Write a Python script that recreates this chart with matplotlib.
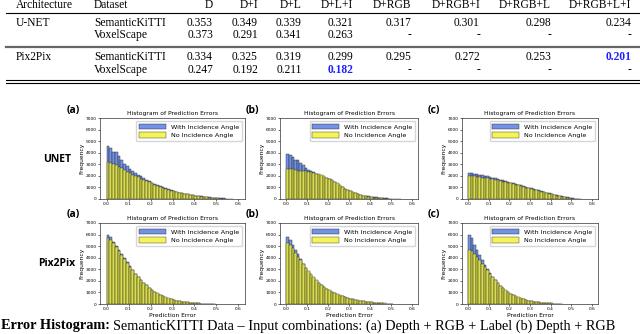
import matplotlib
matplotlib.use("Agg")
import matplotlib.pyplot as plt
import numpy as np

# ---------------- table data ----------------
table_cols = ["D", "D+I", "D+L", "D+L+I", "D+RGB", "D+RGB+I", "D+RGB+L", "D+RGB+L+I"]
unet_semkitti = ["0.353", "0.349", "0.339", "0.321", "0.317", "0.301", "0.298", "0.234"]
unet_voxel = ["0.373", "0.291", "0.341", "0.263", "-", "-", "-", "-"]
pix_semkitti = ["0.334", "0.325", "0.319", "0.299", "0.295", "0.272", "0.253", "0.201"]
pix_voxel = ["0.247", "0.192", "0.211", "0.182", "-", "-", "-", "-"]
row_archs = ["U-NET", "Pix2Pix"]
row_datasets = ["SemanticKiTTI", "VoxelScape"]

# ---------------- histogram data (bin width 0.0125 from 0) ----------------
bin_width = 0.0125
unet_a_with = [4550, 4450, 4100, 4050, 3750, 3400, 3050, 2850, 2600, 2400, 2250, 2100, 1950, 1800,
               1650, 1550, 1400, 1300, 1200, 1100, 1000, 920, 840, 760, 690, 620, 560, 510, 460, 410,
               370, 330, 290, 260, 230, 200, 170, 140, 120, 100, 80, 60, 45, 30, 20, 10]
unet_a_no = [3200, 3150, 3050, 2950, 2800, 2650, 2500, 2350, 2250, 2100, 2000, 1900, 1750, 1650,
             1550, 1450, 1350, 1250, 1150, 1050, 960, 880, 800, 730, 660, 600, 540, 490, 440, 390,
             350, 310, 270, 240, 200, 170, 140, 110, 90, 70, 50, 35, 20, 10]
unet_b_with = [3850, 3800, 3650, 3400, 3350, 3100, 2900, 2700, 2500, 2400, 2300, 2200, 2100, 2000,
               1900, 1800, 1700, 1600, 1450, 1300, 1150, 1000, 880, 760, 650, 560, 480, 410, 350, 300,
               260, 220, 190, 160, 135, 110, 90, 70, 55, 40, 30, 20, 12, 6]
unet_b_no = [2600, 2600, 2550, 2500, 2450, 2450, 2400, 2400, 2350, 2300, 2250, 2200, 2150, 2050,
             1950, 1850, 1750, 1650, 1500, 1350, 1200, 1050, 900, 780, 670, 570, 480, 400, 340, 280,
             230, 190, 150, 120, 95, 70, 50, 35, 20, 10]
unet_c_with = [2250, 2250, 2200, 2150, 2100, 2050, 2000, 1950, 1900, 1850, 1780, 1720, 1650, 1600,
               1550, 1480, 1420, 1350, 1290, 1230, 1170, 1100, 1040, 980, 920, 860, 800, 740, 680, 620,
               560, 500, 440, 380, 330, 280, 230, 180, 140, 100, 70, 40, 20, 10]
unet_c_no = [1950, 1950, 1950, 1900, 1880, 1850, 1820, 1780, 1740, 1700, 1650, 1600, 1550, 1500,
             1450, 1400, 1340, 1290, 1230, 1170, 1110, 1050, 990, 930, 870, 810, 750, 690, 630, 570,
             510, 450, 390, 330, 280, 230, 180, 140, 100, 70, 40, 20, 10]
pix_a_with = [6000, 5800, 5400, 5000, 4700, 4300, 3950, 3600, 3250, 2900, 2600, 2300, 2050, 1800,
              1600, 1400, 1200, 1050, 900, 780, 660, 560, 470, 400, 340, 280, 230, 190, 160, 130,
              100, 80, 60, 50, 40, 30, 20, 15, 10, 5]
pix_a_no = [5700, 5550, 5300, 4950, 4600, 4250, 3900, 3550, 3200, 2900, 2600, 2300, 2050, 1820,
            1600, 1400, 1220, 1060, 920, 800, 690, 590, 500, 420, 350, 290, 240, 200, 160, 130,
            100, 80, 60, 45, 35, 25, 15, 10, 5]
pix_b_with = [5800, 5500, 5100, 4700, 4300, 3900, 3500, 3150, 2800, 2500, 2250, 2000, 1800, 1600,
              1450, 1300, 1150, 1030, 920, 820, 730, 650, 580, 510, 450, 400, 350, 300, 260, 220,
              190, 160, 130, 110, 90, 70, 55, 40, 30, 20, 10]
pix_b_no = [5300, 5100, 4800, 4450, 4100, 3800, 3450, 3150, 2850, 2550, 2300, 2050, 1850, 1650,
            1480, 1330, 1190, 1060, 950, 850, 760, 680, 600, 530, 470, 410, 360, 310, 270, 230,
            195, 165, 140, 115, 95, 75, 60, 45, 30, 20, 10]
pix_c_with = [5950, 5700, 5100, 4700, 4200, 3800, 3400, 3000, 2650, 2350, 2050, 1800, 1550, 1350,
              1150, 1000, 860, 740, 640, 550, 470, 400, 340, 290, 240, 200, 170, 140, 110, 90,
              70, 55, 40, 30, 20, 10]
pix_c_no = [4650, 4550, 4300, 4050, 3800, 3500, 3200, 2900, 2600, 2300, 2050, 1800, 1580, 1380,
            1200, 1040, 900, 780, 670, 570, 490, 420, 360, 300, 250, 210, 175, 145, 120, 95,
            75, 60, 45, 35, 25, 15, 8]

panel_labels = ["(a)", "(b)", "(c)"]
model_labels = ["UNET", "Pix2Pix"]
x_ticks = [0.0, 0.1, 0.2, 0.3, 0.4, 0.5, 0.6]
y_ticks = [0, 1000, 2000, 3000, 4000, 5000, 6000, 7000]

W, H = 640, 334
fig = plt.figure(figsize=(W / 100, H / 100), dpi=100)
fig.patch.set_facecolor("white")


def fx(x):
    return x / W


def fy(y):
    return 1 - y / H


def px_axes(l, t, r, b):
    return fig.add_axes([fx(l), fy(b), (r - l) / W, (b - t) / H])


SERIF = "Liberation Serif"
tfs = 8.3

# ---------------- table ----------------
col_right = [213, 258, 302, 353, 411, 480, 551, 631]
hy = 5
fig.text(fx(16), fy(hy), "Architecture", family=SERIF, fontsize=tfs, va="center", ha="left")
fig.text(fx(94), fy(hy), "Dataset", family=SERIF, fontsize=tfs, va="center", ha="left")
for c, xr in zip(table_cols, col_right):
    fig.text(fx(xr), fy(hy), c, family=SERIF, fontsize=tfs, va="center", ha="right")

rows = [(row_archs[0], row_datasets[0], unet_semkitti, 23),
        ("", row_datasets[1], unet_voxel, 35),
        (row_archs[1], row_datasets[0], pix_semkitti, 57.5),
        ("", row_datasets[1], pix_voxel, 70)]
best = {(2, 7), (3, 3)}
for ri, (arch, ds, vals, y) in enumerate(rows):
    if arch:
        fig.text(fx(16), fy(y), arch, family=SERIF, fontsize=tfs, va="center", ha="left")
    fig.text(fx(94), fy(y), ds, family=SERIF, fontsize=tfs, va="center", ha="left")
    for ci, (v, xr) in enumerate(zip(vals, col_right)):
        if (ri, ci) in best:
            fig.text(fx(xr), fy(y), v, family=SERIF, fontsize=tfs, va="center", ha="right",
                     color="#1f1fff", fontweight="bold")
        else:
            fig.text(fx(xr), fy(y), v, family=SERIF, fontsize=tfs, va="center", ha="right")

fig.add_artist(plt.Line2D([fx(6), fx(640)], [fy(13.2), fy(13.2)], color="black", lw=0.8,
                          transform=fig.transFigure))
fig.add_artist(plt.Line2D([fx(6), fx(640)], [fy(46.7), fy(46.7)], color="#666666", lw=1.6,
                          transform=fig.transFigure))
fig.add_artist(plt.Line2D([fx(6), fx(640)], [fy(80.2), fy(80.2)], color="black", lw=0.8,
                          transform=fig.transFigure))
fig.add_artist(plt.Line2D([fx(6), fx(640)], [fy(82.7), fy(82.7)], color="black", lw=0.8,
                          transform=fig.transFigure))

# ---------------- histograms ----------------
data = [[(unet_a_with, unet_a_no), (unet_b_with, unet_b_no), (unet_c_with, unet_c_no)],
        [(pix_a_with, pix_a_no), (pix_b_with, pix_b_no), (pix_c_with, pix_c_no)]]
col_lr = [(100, 245), (280, 418), (462, 598)]
row_tb = [(118, 199), (223, 304)]
blue = "#5b7fe0"
yellow = "#f2f230"

for r in range(2):
    t, b = row_tb[r]
    for c in range(3):
        l, rr = col_lr[c]
        ax = px_axes(l, t, rr, b)
        w_vals, n_vals = data[r][c]
        xw = np.arange(len(w_vals)) * bin_width
        xn = np.arange(len(n_vals)) * bin_width
        ax.bar(xw, w_vals, width=bin_width, align="edge", color=blue, alpha=0.85,
               edgecolor="#222222", linewidth=0.35, label="With Incidence Angle")
        ax.bar(xn, n_vals, width=bin_width, align="edge", color=yellow, alpha=0.8,
               edgecolor="#222222", linewidth=0.35, label="No Incidence Angle")
        ax.set_xlim(-0.03, 0.63)
        ax.set_ylim(0, 7000)
        ax.set_xticks(x_ticks)
        ax.set_xticklabels([f"{v:.1f}" for v in x_ticks])
        ax.set_yticks(y_ticks)
        ax.tick_params(labelsize=3.2, length=1.5, width=0.4, pad=1)
        for s in ax.spines.values():
            s.set_linewidth(0.5)
            s.set_color("#333333")
        ax.set_title("Histogram of Prediction Errors", fontsize=4.3, pad=2)
        ax.set_ylabel("Frequency", fontsize=4.3, labelpad=1)
        if r == 1:
            ax.set_xlabel("Prediction Error", fontsize=4.3, labelpad=1)
        ax.legend(loc="upper right", fontsize=4.6, frameon=True, handlelength=4.2,
                  handleheight=1.0, borderpad=0.4, labelspacing=0.4, fancybox=True,
                  framealpha=0.8, edgecolor="#cccccc")
        lab_x = l - 27 if c == 0 else l - 28
        fig.text(fx(lab_x), fy(t - 8), panel_labels[c], fontsize=7.5, fontweight="bold",
                 family="Open Sans", ha="center", va="center")

fig.text(fx(57), fy(159), model_labels[0], fontsize=7.5, fontweight="bold", family="Open Sans",
         ha="center", va="center")
fig.text(fx(57), fy(264), model_labels[1], fontsize=7.5, fontweight="bold", family="Open Sans",
         ha="center", va="center")

# ---------------- caption ----------------
fig.canvas.draw()
renderer = fig.canvas.get_renderer()
cap_bold = fig.text(fx(1), fy(326), "Error Histogram:", family=SERIF, fontsize=10.3,
                    fontweight="bold", va="center", ha="left")
bb = cap_bold.get_window_extent(renderer)
fig.text(bb.x1 / W + 3 / W, fy(326),
         "SemanticKITTI Data \u2013 Input combinations: (a) Depth + RGB + Label (b) Depth + RGB",
         family=SERIF, fontsize=10.3, va="center", ha="left")

fig.savefig("out.png", dpi=100, facecolor="white")
